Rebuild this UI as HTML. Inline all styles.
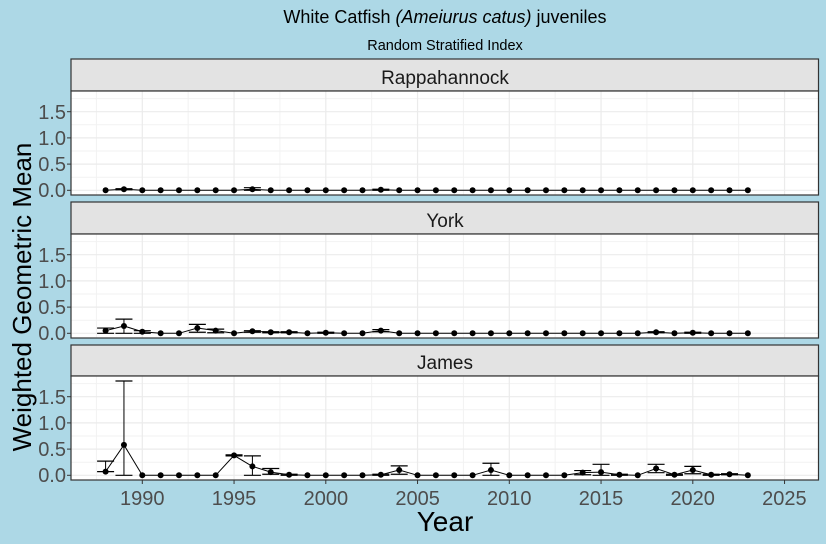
<!DOCTYPE html>
<html><head><meta charset="utf-8"><style>
html,body{margin:0;padding:0;background:#ADD8E6;}
svg{display:block;font-family:"Liberation Sans",sans-serif;}
</style></head><body>
<svg id="s" width="826" height="544" xmlns="http://www.w3.org/2000/svg">
<rect width="826" height="544" fill="#ADD8E6"/>
<text x="445" y="23" font-size="18" text-anchor="middle" fill="#000">White Catfish <tspan font-style="italic">(Ameiurus catus)</tspan> juveniles</text>
<text x="445" y="50" font-size="14.5" text-anchor="middle" fill="#000">Random Stratified Index</text>
<g id="panels"></g>
<text x="445" y="84" font-size="19" text-anchor="middle" fill="#1a1a1a">Rappahannock</text>
<text x="445" y="227" font-size="19" text-anchor="middle" fill="#1a1a1a">York</text>
<text x="445" y="369" font-size="19" text-anchor="middle" fill="#1a1a1a">James</text>
<g font-size="20" fill="#4d4d4d" text-anchor="end">
<text x="66" y="197">0.0</text><text x="66" y="171">0.5</text><text x="66" y="145">1.0</text><text x="66" y="119">1.5</text>
<text x="66" y="340">0.0</text><text x="66" y="314">0.5</text><text x="66" y="288">1.0</text><text x="66" y="262">1.5</text>
<text x="66" y="482">0.0</text><text x="66" y="456">0.5</text><text x="66" y="430">1.0</text><text x="66" y="404">1.5</text>
</g>
<g font-size="20" fill="#4d4d4d" text-anchor="middle">
<text x="142.3" y="505">1990</text><text x="234" y="505">1995</text><text x="325.9" y="505">2000</text><text x="417.6" y="505">2005</text><text x="509.3" y="505">2010</text><text x="601" y="505">2015</text><text x="692.7" y="505">2020</text><text x="784.4" y="505">2025</text>
</g>
<text x="445" y="531" font-size="28" text-anchor="middle" fill="#000">Year</text>
<text transform="translate(31,297) rotate(-90)" font-size="26" text-anchor="middle" fill="#000">Weighted Geometric Mean</text>
</svg>
<script>
var NS="http://www.w3.org/2000/svg",g=document.getElementById("panels");
function el(t,a){var e=document.createElementNS(NS,t);for(var k in a)e.setAttribute(k,a[k]);g.appendChild(e);return e;}
var L=71,R=818.5;
function X(y){return 142.3+(y-1990)*18.35;}
var panels=[
{st:59,T:91,Z:190.3,d:{1989:[0.02,0.01,0.03],1996:[0.02,0,0.05],2003:[0.01,0,0.02]}},
{st:202,T:234,Z:333.3,d:{1988:[0.05,0,0.1],1989:[0.14,0,0.27],1990:[0.03,0,0.05],1993:[0.1,0.02,0.17],1994:[0.05,0.01,0.08],1996:[0.04,0.02,0.05],1997:[0.02,0.01,0.03],1998:[0.02,0.01,0.03],2000:[0.01,0,0.02],2003:[0.05,0.03,0.07],2018:[0.02,0.01,0.03],2020:[0.01,0,0.02]}},
{st:345,T:376,Z:475.3,d:{1988:[0.07,0.07,0.27],1989:[0.58,0,1.8],1995:[0.38,0.37,0.39],1996:[0.17,0,0.37],1997:[0.06,0.02,0.13],1998:[0.01,0,0.02],2003:[0.01,0,0.02],2004:[0.1,0.02,0.18],2009:[0.1,0,0.23],2014:[0.05,0.01,0.09],2015:[0.06,0,0.21],2016:[0.01,0,0.02],2018:[0.13,0.05,0.21],2019:[0.01,0,0.02],2020:[0.1,0.03,0.17],2021:[0.01,0,0.02],2022:[0.02,0.01,0.03]}}
];
panels.forEach(function(p){
 var B=p.T+104;
 el("rect",{x:L,y:p.st,width:R-L,height:p.T-p.st,fill:"#e3e3e3",stroke:"#333","stroke-width":1.2});
 el("rect",{x:L,y:p.T,width:R-L,height:104,fill:"#fff"});
 function Y(v){return p.Z-v*52.4;}
 for(var v=0.25;v<2;v+=0.5)el("line",{x1:L,x2:R,y1:Y(v),y2:Y(v),stroke:"#f2f2f2","stroke-width":1});
 for(var yr=1987.5;yr<2030;yr+=5)if(X(yr)>L&&X(yr)<R)el("line",{x1:X(yr),x2:X(yr),y1:p.T,y2:B,stroke:"#f2f2f2","stroke-width":1});
 for(var v=0;v<2;v+=0.5)el("line",{x1:L,x2:R,y1:Y(v),y2:Y(v),stroke:"#ebebeb","stroke-width":1.2});
 for(var yr=1990;yr<=2025;yr+=5)el("line",{x1:X(yr),x2:X(yr),y1:p.T,y2:B,stroke:"#ebebeb","stroke-width":1.2});
 var pts=[];
 for(var yr=1988;yr<=2023;yr++){var d=p.d[yr],v=d?d[0]:0;pts.push(X(yr)+","+Y(v));
  if(d){var x=X(yr);el("line",{x1:x,x2:x,y1:Y(d[1]),y2:Y(d[2]),stroke:"#000","stroke-width":1});
   [d[1],d[2]].forEach(function(q){el("line",{x1:x-8.5,x2:x+8.5,y1:Y(q),y2:Y(q),stroke:"#000","stroke-width":1.2});});}}
 el("polyline",{points:pts.join(" "),fill:"none",stroke:"#000","stroke-width":1});
 for(var yr=1988;yr<=2023;yr++){var d=p.d[yr];el("circle",{cx:X(yr),cy:Y(d?d[0]:0),r:3,fill:"#000"});}
 el("rect",{x:L,y:p.T,width:R-L,height:104,fill:"none",stroke:"#333","stroke-width":1.2});
 for(var v=0;v<2;v+=0.5)el("line",{x1:L-4,x2:L,y1:Y(v),y2:Y(v),stroke:"#333","stroke-width":1});
 if(p.st==345)for(var yr=1990;yr<=2025;yr+=5)el("line",{x1:X(yr),x2:X(yr),y1:B,y2:B+4,stroke:"#333","stroke-width":1});
});
</script>
</body></html>
